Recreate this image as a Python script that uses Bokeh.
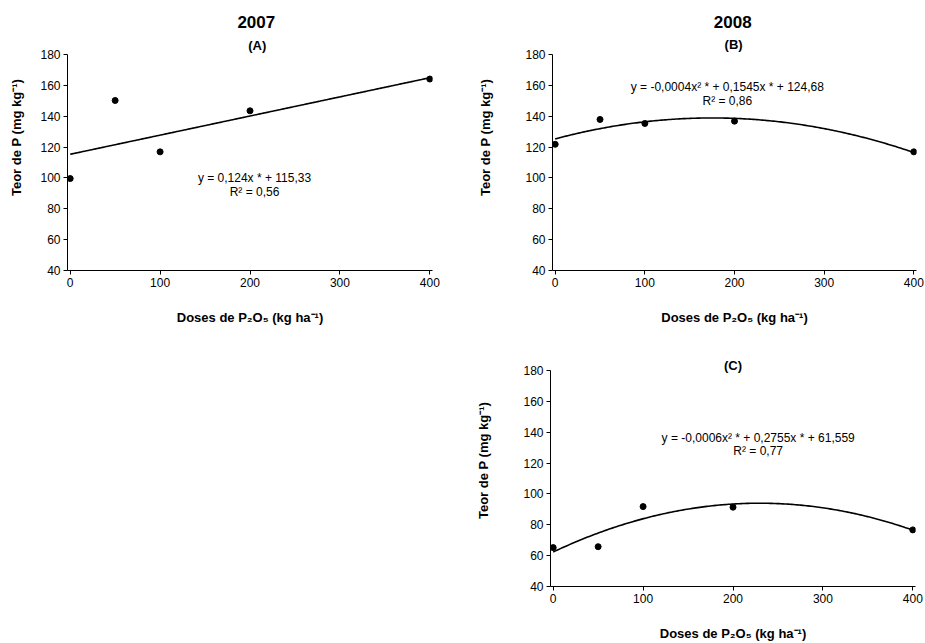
import numpy as np
from bokeh.plotting import figure
from bokeh.layouts import column, row
from bokeh.models import Spacer, FixedTicker, Label, Range1d
from bokeh.embed import file_html
from bokeh.resources import INLINE

# ---- data ----
doses = [0, 50, 100, 200, 400]
teor_A = [99.6, 150.2, 116.9, 143.5, 164.1]   # 2007
teor_B = [121.8, 137.9, 135.3, 136.8, 116.9]  # 2008 (B)
teor_C = [65.2, 65.8, 91.8, 91.4, 76.7]       # 2008 (C)

# printed regression for panel A (slope, intercept)
coef_A = [0.124, 115.33]

x_ticks = [0, 100, 200, 300, 400]
y_ticks = [40, 60, 80, 100, 120, 140, 160, 180]

eq_A = ["y = 0,124x * + 115,33", "R² = 0,56"]
eq_B = ["y = -0,0004x² * + 0,1545x * + 124,68", "R² = 0,86"]
eq_C = ["y = -0,0006x² * + 0,2755x * + 61,559", "R² = 0,77"]

FONT = "Liberation Sans"
XLABEL = "Doses de P₂O₅ (kg ha⁻¹)"
YLABEL = "Teor de P (mg kg⁻¹)"


def make_panel(w, h, bl, br, bb, y180_px, y_standoff, ys, coef,
               titles, eq, eq_x, eq_py):
    bt = 4
    frame_bottom = h - bb
    ppu = (frame_bottom - y180_px) / 140.0      # pixels per y unit
    y_top = 40 + (h - bt - bb) / ppu

    def py2y(py):
        return 40 + (frame_bottom - py) / ppu

    p = figure(width=w, height=h, output_backend="svg", toolbar_location=None,
               x_range=Range1d(-3, 403), y_range=Range1d(40, y_top),
               min_border_left=bl, min_border_right=br,
               min_border_top=bt, min_border_bottom=bb)
    p.outline_line_color = None
    p.background_fill_color = "white"
    p.border_fill_color = "white"
    p.grid.visible = False
    for ax in (p.xaxis[0], p.yaxis[0]):
        ax.axis_line_color = "black"
        ax.axis_line_width = 1
        ax.major_tick_line_color = "black"
        ax.major_tick_out = 4
        ax.major_tick_in = 0
        ax.minor_tick_line_color = None
        ax.major_label_text_font = FONT
        ax.major_label_text_font_size = "12px"
        ax.major_label_text_color = "black"
        ax.major_label_standoff = 3
        ax.axis_label_text_font = FONT
        ax.axis_label_text_font_style = "bold"
        ax.axis_label_text_color = "black"
        ax.axis_label_text_font_size = "13px"
    p.xaxis[0].ticker = FixedTicker(ticks=x_ticks)
    p.yaxis[0].ticker = FixedTicker(ticks=y_ticks)
    p.yaxis[0].bounds = (40, 180)
    p.xaxis[0].axis_label = XLABEL
    p.xaxis[0].axis_label_standoff = 20
    p.yaxis[0].axis_label = YLABEL
    p.yaxis[0].axis_label_standoff = y_standoff

    if coef is None:
        coef = np.polyfit(doses, ys, 2)
    xx = np.linspace(0, 400, 200)
    p.line(xx, np.polyval(coef, xx), line_color="black", line_width=1.6)
    p.scatter(doses, ys, size=6, color="black")

    for text, tx, tpy, size in titles:
        p.add_layout(Label(x=tx, y=py2y(tpy), text=text, text_font=FONT,
                           text_font_style="bold", text_font_size=size,
                           text_align="center", text_baseline="middle",
                           text_color="black"))
    for t, py in zip(eq, eq_py):
        p.add_layout(Label(x=eq_x, y=py2y(py), text=t, text_font=FONT,
                           text_font_size="12px", text_align="center",
                           text_baseline="middle", text_color="black"))
    return p


pA = make_panel(460, 330, 67, 28, 60, 54, 13, teor_A, coef_A,
                [("2007", 207, 21, "17px"), ("(A)", 208, 45, "13px")],
                eq_A, 205, [177, 191])
pB = make_panel(465, 330, 92, 9, 60, 54, 29, teor_B, None,
                [("2008", 198, 21, "17px"), ("(B)", 199, 44, "13px")],
                eq_B, 192, [86, 100])
pC = make_panel(465, 313, 90, 10, 57, 40, 29, teor_C, None,
                [("(C)", 200, 35, "13px")],
                eq_C, 228, [107.3, 120.7])

layout = column(row(pA, pB), row(Spacer(width=460, height=313), pC))

open("out.html", "w").write(file_html(layout, INLINE))
